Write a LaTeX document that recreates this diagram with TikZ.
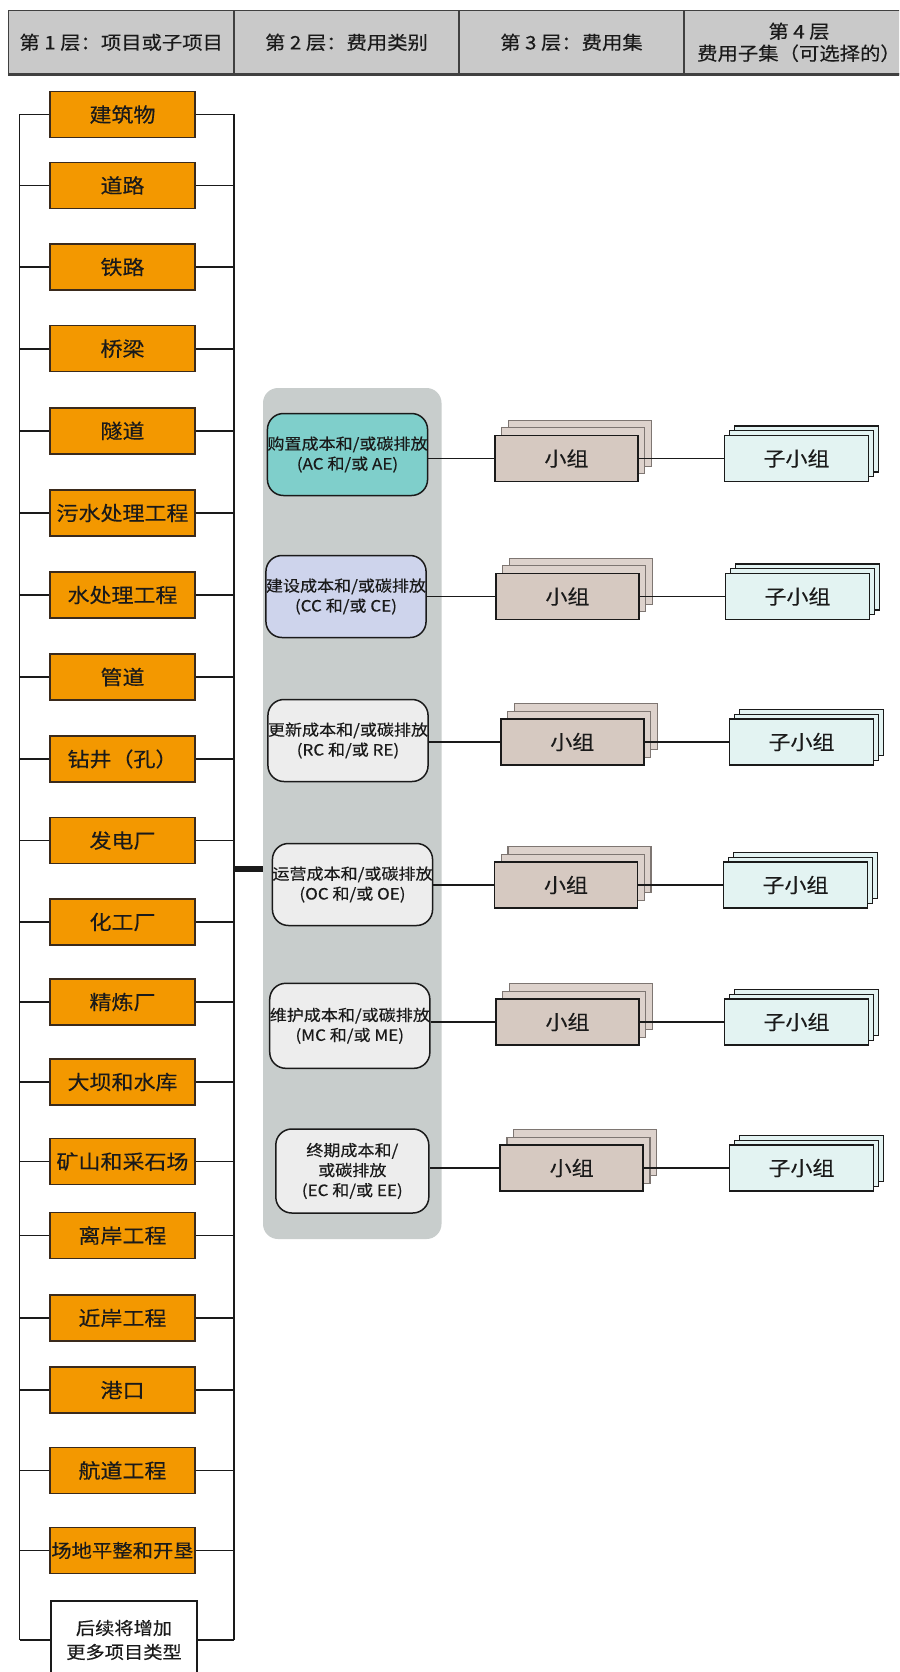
\documentclass[tikz,border=0pt]{standalone}
\usepackage{fontspec}
\setmainfont{Noto Sans CJK SC}[FakeStretch=1.1, FakeBold=0.3]
\usetikzlibrary{shadows}

\definecolor{orangec}{HTML}{F39800}
\definecolor{obrd}{HTML}{3A2A1C}
\definecolor{hdrfill}{HTML}{C9C9C9}
\definecolor{hdrline}{HTML}{404040}
\definecolor{panelc}{HTML}{C8CDCC}
\definecolor{tealc}{HTML}{7FCFCB}
\definecolor{lavc}{HTML}{CED4EC}
\definecolor{lightc}{HTML}{EDEDED}
\definecolor{grpc}{HTML}{D6C9C1}
\definecolor{grpback}{HTML}{DDD2CC}
\definecolor{grpbrd}{HTML}{7E7672}
\definecolor{subc}{HTML}{E3F3F2}
\definecolor{ink}{HTML}{1A1A1A}

\tikzset{
  hdr/.style={draw=hdrline, fill=hdrfill, line width=1.2pt, minimum height=63.3pt,
    inner sep=0pt, align=center, text=ink, font=\fontsize{18.5}{22}\selectfont},
  orangebox/.style={draw=obrd, fill=orangec, line width=1.5pt, minimum width=145pt,
    minimum height=46pt, inner sep=0pt, text=ink, font=\fontsize{20}{22}\selectfont},
  whitebox/.style={draw=ink, fill=white, line width=1.5pt, minimum width=146pt,
    minimum height=78pt, inner sep=0pt, align=center, text=ink,
    font=\fontsize{17.5}{24}\selectfont},
  catbox/.style={draw=ink, rounded corners=16pt, line width=1.5pt, minimum width=153pt,
    minimum height=82pt, inner sep=0pt, align=center, text=ink,
    font=\fontsize{15.5}{20}\selectfont},
  groupbox/.style={draw=ink, fill=grpc, line width=1.6pt, minimum width=143pt,
    minimum height=46pt, inner sep=0pt, text=ink, font=\fontsize{20}{22}\selectfont,
    double copy shadow={shadow xshift=6.7pt, shadow yshift=7.7pt, fill=grpback,
      draw=grpbrd, line width=1.2pt}},
  subbox/.style={draw=ink, fill=subc, line width=1.6pt, minimum width=144pt,
    minimum height=46pt, inner sep=0pt, text=ink, font=\fontsize{20}{22}\selectfont,
    double copy shadow={shadow xshift=5pt, shadow yshift=4.7pt, fill=subc,
      draw=ink, line width=1.3pt}},
  wire/.style={draw=ink, line width=1.6pt},
}

\begin{document}
\begin{tikzpicture}[x=1pt, y=-1pt]
\clip (0,0) rectangle (899,1672);
\fill[white] (0,0) rectangle (899,1672);

% header row
\node[hdr, minimum width=225.5pt] (h1) at (121.25,42.35) {第 1 层：项目或子项目};
\node[hdr, minimum width=225pt] (h2) at (346.5,42.35) {第 2 层：费用类别};
\node[hdr, minimum width=225pt] (h3) at (571.5,42.35) {第 3 层：费用集};
\node[hdr, minimum width=230pt] (h4) at (799,42.35) {第 4 层\\费用子集（可选择的）};
\draw[draw=hdrline, line width=2.6pt] (h1.south west) -- (h4.south east);

% level 1: project types on two buses
\coordinate (lbus) at (19.5,0);
\coordinate (rbus) at (234,0);
\foreach \y/\t [count=\i] in {114.5/建筑物, 185.4/道路, 267/铁路, 348.7/桥梁,
    430.8/隧道, 513/污水处理工程, 595/水处理工程, 677/管道, 759/钻井（孔）,
    840.5/发电厂, 922/化工厂, 1002/精炼厂, 1082/大坝和水库, 1161.5/矿山和采石场,
    1235.5/离岸工程, 1318/近岸工程, 1390/港口, 1470.5/航道工程} {
  \node[orangebox] (l\i) at (122.5,\y) {\t};
}
\node[orangebox, font=\fontsize{18.5}{22}\selectfont] (l19) at (122.5,1550.5) {场地平整和开垦};
\node[whitebox] (l20) at (124,1640) {后续将增加\\更多项目类型};
\foreach \i in {1,...,20} {
  \draw[wire] (l\i.west) -- (l\i.west -| lbus);
  \draw[wire] (l\i.east) -- (l\i.east -| rbus);
}
\draw[wire] (lbus |- l1.west) -- (lbus |- l20.west);
\draw[wire] (rbus |- l1.east) -- (rbus |- l20.east);

% level 2: cost categories on a shaded panel
\node[fill=panelc, rounded corners=15pt, minimum width=178.5pt, minimum height=851pt,
  inner sep=0pt] (panel) at (352.25,813.5) {};
% heavy link from the project bus to the panel
\coordinate (hubtop) at (233,866.2);
\coordinate (hubbot) at (233,871.8);
\fill[ink] (hubtop) rectangle (hubbot -| panel.west);

\node[catbox, fill=tealc, minimum width=155pt] (c1) at (347.5,454.5) {购置成本和/或碳排放\\(AC 和/或 AE)};
\node[catbox, fill=lavc] (c2) at (346,596.5) {建设成本和/或碳排放\\(CC 和/或 CE)};
\node[catbox, fill=lightc] (c3) at (348,740.5) {更新成本和/或碳排放\\(RC 和/或 RE)};
\node[catbox, fill=lightc, minimum width=155pt] (c4) at (352.5,884.5) {运营成本和/或碳排放\\(OC 和/或 OE)};
\node[catbox, fill=lightc, minimum height=85pt] (c5) at (349.8,1025.8) {维护成本和/或碳排放\\(MC 和/或 ME)};
\node[catbox, fill=lightc, minimum height=84pt] (c6) at (352.3,1171) {终期成本和/\\或碳排放\\(EC 和/或 EE)};

% level 3 and level 4: stacked groups and subgroups
\node[groupbox] (g1) at (566.5,458.5) {小组};
\node[groupbox] (g2) at (567.5,596.5) {小组};
\node[groupbox] (g3) at (572.3,742) {小组};
\node[groupbox] (g4) at (566,885) {小组};
\node[groupbox] (g5) at (567.5,1022) {小组};
\node[groupbox] (g6) at (571.7,1168) {小组};

\node[subbox] (s1) at (796.5,458.5) {子小组};
\node[subbox] (s2) at (797.5,596.5) {子小组};
\node[subbox] (s3) at (801.5,742) {子小组};
\node[subbox] (s4) at (795.5,885) {子小组};
\node[subbox] (s5) at (796.5,1022) {子小组};
\node[subbox] (s6) at (801.5,1168) {子小组};

\foreach \i in {1,...,6} {
  \draw[wire] (g\i.west) -- (g\i.west -| c\i.east);
  \draw[wire] (g\i.east) -- (s\i.west);
}
\end{tikzpicture}
\end{document}
